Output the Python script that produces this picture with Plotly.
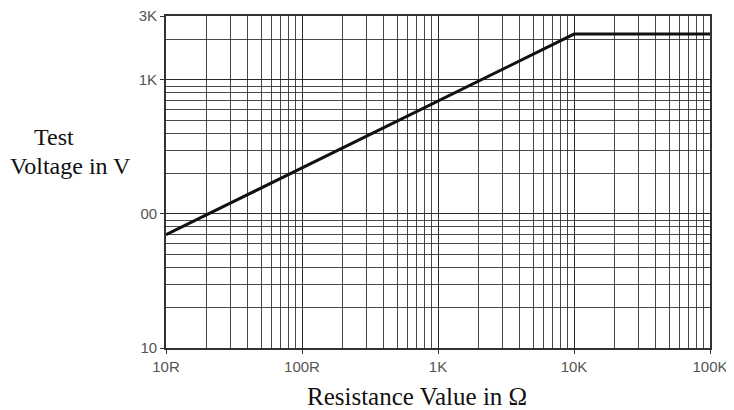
import plotly.graph_objects as go

# Data
resistance = [10, 10000, 100000]
test_voltage = [70, 2200, 2200]

x_tick_vals = [10, 100, 1000, 10000, 100000]
x_tick_text = ["10R", "100R", "1K", "10K", "100K"]
y_tick_vals = [10, 100, 1000, 3000]
y_tick_text = ["10", "00", "1K", "3K"]

# gridline positions (every digit within each decade)
x_grid = [m * 10 ** e for e in range(1, 5) for m in range(1, 10)] + [100000]
y_grid = [m * 10 ** e for e in range(1, 4) for m in range(1, 10) if m * 10 ** e <= 3000]

fig = go.Figure()
fig.add_trace(go.Scatter(
    x=resistance, y=test_voltage, mode="lines",
    line=dict(color="#111111", width=3), showlegend=False, hoverinfo="skip"))

grid_col = "rgba(40,40,40,0.85)"
tick_font = dict(family="Liberation Sans, Arial, sans-serif", size=15, color="#555555")

common = dict(
    type="log", tickmode="array",
    showgrid=True, gridcolor=grid_col, gridwidth=1.4,
    showline=True, linecolor="#333333", linewidth=1.8, mirror=True,
    ticks="outside", ticklen=4, tickwidth=1.4, tickcolor="#333333",
    tickfont=tick_font, zeroline=False, ticklabeloverflow="allow",
)
fig.update_xaxes(range=[1, 5], tickvals=x_tick_vals, ticktext=x_tick_text,
                 minor=dict(tickmode="array", tickvals=x_grid, showgrid=True,
                            gridcolor=grid_col, gridwidth=1.4, ticks=""),
                 **common)
fig.update_yaxes(range=[1, 3.4775], tickvals=y_tick_vals, ticktext=y_tick_text,
                 minor=dict(tickmode="array", tickvals=y_grid, showgrid=True,
                            gridcolor=grid_col, gridwidth=1.4, ticks=""),
                 **common)

serif = "Liberation Serif, Times New Roman, serif"
fig.add_annotation(
    text="Test", xref="paper", yref="paper",
    x=-0.206, y=0.636, xanchor="center", yanchor="middle", showarrow=False,
    font=dict(family=serif, size=24, color="#111111"),
)
fig.add_annotation(
    text="Voltage in V", xref="paper", yref="paper",
    x=-0.176, y=0.548, xanchor="center", yanchor="middle", showarrow=False,
    font=dict(family=serif, size=24, color="#111111"),
)
fig.add_annotation(
    text="Resistance Value in Ω", xref="paper", yref="paper",
    x=0.462, y=-0.145, xanchor="center", yanchor="middle", showarrow=False,
    font=dict(family=serif, size=25, color="#111111"),
)

fig.update_layout(
    width=726, height=402,
    margin=dict(l=158, r=24, t=8, b=62, autoexpand=False),
    paper_bgcolor="white", plot_bgcolor="white",
    showlegend=False,
)

fig.write_html("out.html")
